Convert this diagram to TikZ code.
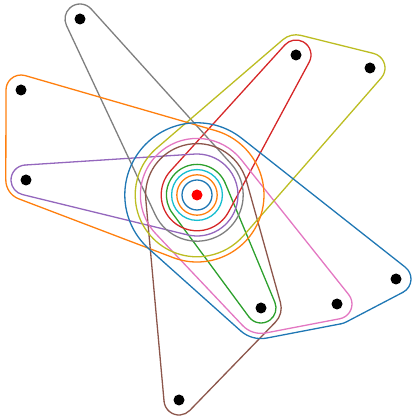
\documentclass[tikz,border=0pt]{standalone}
\usetikzlibrary{positioning}
\definecolor{tabblue}{HTML}{1F77B4}
\definecolor{taborange}{HTML}{FF7F0E}
\definecolor{tabgreen}{HTML}{2CA02C}
\definecolor{tabred}{HTML}{D62728}
\definecolor{tabpurple}{HTML}{9467BD}
\definecolor{tabbrown}{HTML}{8C564B}
\definecolor{tabpink}{HTML}{E377C2}
\definecolor{tabgray}{HTML}{7F7F7F}
\definecolor{tabolive}{HTML}{BCBD22}
\definecolor{tabcyan}{HTML}{17BECF}
% rounded hull round circles given counter-clockwise: colour, count, xs, ys, radii
\newcommand\hull[5]{%
  \foreach \i in {1,...,#2}{
    \pgfmathtruncatemacro\ia{\i-1}
    \pgfmathtruncatemacro\ip{mod(\i-2+#2,#2)}
    \pgfmathtruncatemacro\iq{mod(\i,#2)}
    \pgfmathsetmacro\hx{{#3}[\ia]}\pgfmathsetmacro\hy{{#4}[\ia]}\pgfmathsetmacro\hr{{#5}[\ia]}
    \pgfmathsetmacro\px{{#3}[\ip]}\pgfmathsetmacro\py{{#4}[\ip]}\pgfmathsetmacro\pr{{#5}[\ip]}
    \pgfmathsetmacro\qx{{#3}[\iq]}\pgfmathsetmacro\qy{{#4}[\iq]}\pgfmathsetmacro\qr{{#5}[\iq]}
    \pgfmathsetmacro\fin{atan2(\hy-\py,\hx-\px)-acos((\pr-\hr)/(100*veclen((\hx-\px)/100,(\hy-\py)/100)))}
    \pgfmathsetmacro\fout{atan2(\qy-\hy,\qx-\hx)-acos((\hr-\qr)/(100*veclen((\qx-\hx)/100,(\qy-\hy)/100)))}
    \pgfmathsetmacro\fout{\fin+mod(\fout-\fin+720,360)}
    \pgfmathsetmacro\sx{\hx+\hr*cos(\fin)}\pgfmathsetmacro\sy{\hy+\hr*sin(\fin)}
    \pgfmathsetmacro\ex{\qx+\qr*cos(\fout)}\pgfmathsetmacro\ey{\qy+\qr*sin(\fout)}
    \draw[edge,#1] (\sx,\sy)
      arc[start angle=\fin,end angle=\fout,radius=\hr pt] -- (\ex,\ey);
  }%
}
\begin{document}
\begin{tikzpicture}[x=1pt,y=1pt,
  edge/.style={line width=1.3pt,line cap=round},
  vert/.style={circle,fill=black,inner sep=0pt,minimum size=11pt},
  hub/.style={vert,fill=red}]
  \useasboundingbox (0,0) rectangle (414,419);
  % one-vertex edges round the hub
  \draw[edge,tabblue] (197,224) circle[radius=15pt];
  \draw[edge,taborange] (197,224) circle[radius=20.2pt];
  \draw[edge,tabcyan] (197,224) circle[radius=25.4pt];
  % larger edges
  \hull{tabgreen}{2}{197,261}{224,111}{30.6,15}
  \hull{tabred}{2}{197,296}{224,364}{35.8,15}
  \hull{tabpurple}{2}{197,26}{224,239}{41,15}
  \hull{tabgray}{2}{197,80}{224,400}{46.2,15}
  \hull{tabbrown}{3}{197,179,261}{224,19,111}{51.4,15,20.2}
  \hull{tabpink}{3}{197,261,337}{224,111,115}{56.6,25.4,15}
  \hull{tabolive}{3}{197,370,296}{224,351,364}{61.8,15,20.2}
  \hull{taborange}{3}{197,21,26}{224,329,239}{67,15,20.2}
  \hull{tabblue}{4}{197,261,337,396}{224,111,115,140}{72.2,30.6,20.2,15}
  % vertices
  \node[hub] (c) at (197,224) {};
  \node[vert] (v1) at (80,400) {};
  \node[vert] (v2) at (21,329) {};
  \node[vert] (v3) at (26,239) {};
  \node[vert] (v4) at (296,364) {};
  \node[vert] (v5) at (370,351) {};
  \node[vert] (v6) at (396,140) {};
  \node[vert] (v7) at (337,115) {};
  \node[vert] (v8) at (261,111) {};
  \node[vert] (v9) at (179,19) {};
\end{tikzpicture}
\end{document}
